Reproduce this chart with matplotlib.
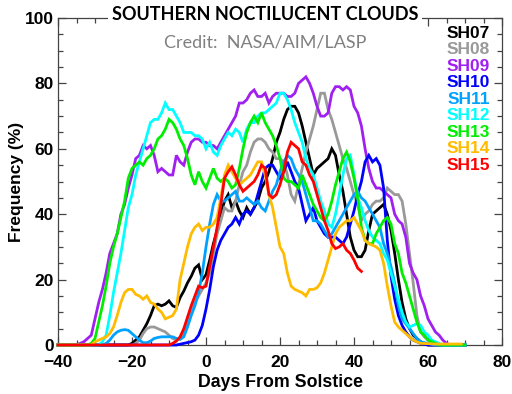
import matplotlib
matplotlib.use("Agg")
import matplotlib.pyplot as plt
from matplotlib.ticker import MultipleLocator

# ---------------- data ----------------
sh07_days = [-40,-21,-20,-19,-18,-17,-16,-15,-14,-13,-12,-11,-10,-9,-8,-7,-6,-5,-4,-3,-2,-1,0,1,2,3,4,5,6,7,8,9,10,11,12,13,14,15,16,17,18,19,20,21,22,23,24,25,26,27,28,29,30,31,32,33,34,35,36,37,38,39,40,41,42,43,44,45,46,47,48,49,50,51,52,53,54,55,56,57,58,59,60,70]
sh07_freq = [0,0,0.5,1.5,2.5,4.5,6.5,9,12,12.5,12,12.5,13.5,12,11.5,14.5,16.5,19,21,23.5,24.5,20,21.5,26,31,35,40,44,46,42,44,41,39,42,40,42,44,48,50,53,57,62,65,69,72,73,73,71,67,62,57,52,54,55,56,57,60,58,52,47,40,33,29,27,27,29,35,40,41,42,43,40,35,28,20,13,8,5,3,2,1,0.5,0,0]

sh08_days = [-40,-20,-19,-18,-17,-16,-15,-14,-13,-12,-11,-10,-9,-8,-7,-6,-5,-4,-3,-2,-1,0,1,2,3,4,5,6,7,8,9,10,11,12,13,14,15,16,17,18,19,20,21,22,23,24,25,26,27,28,29,30,31,32,33,34,35,36,37,38,39,40,41,42,43,44,45,46,47,48,49,50,51,52,53,54,55,56,57,58,59,60,61,62,64,70]
sh08_freq = [0,0,0.5,1.5,3.5,5,5.5,5.5,5,4.5,4,3,2,1.5,2,4,8,11,13,15,17,19,22,28,34,38,42,41,41,44,49,53,55,59,62,63,63,62,60,59,57,57,56,52,46,44,49,54,59,63,67,72,77,77,72,69,65,61,57,54,50,46,43,38,40,41,43,44,44,45,48,47,46,46,44,37,28,19,9,4,2.5,1.5,1,0.5,0,0]

sh09_days = [-40,-35,-34,-33,-32,-31,-30,-29,-28,-27,-26,-25,-24,-23,-22,-21,-20,-19,-18,-17,-16,-15,-14,-13,-12,-11,-10,-9,-8,-7,-6,-5,-4,-3,-2,-1,0,1,2,3,4,5,6,7,8,9,10,11,12,13,14,15,16,17,18,19,20,21,22,23,24,25,26,27,28,29,30,31,32,33,34,35,36,37,38,39,40,41,42,43,44,45,46,47,48,49,50,51,52,53,54,55,56,57,58,59,60,61,62,63,64,65,66,70]
sh09_freq = [0,0,0.5,1,2,3,8,13,17,22,28,31,34,40,43,48,52,57,58,61,60,61,58,53,54,53,52,52,58,56,55,59,62,63,63,62,62,61,61,60,62,64,66,68,70,74,74,75,77,78,76,76,77,74,76,77,77,77,76,76,77,80,81,82,80,77,73,70,70,71,77,79,79,78,79,78,73,71,67,60,54,50,48,48,47,46,45,40,38,37,33,25,22,20,15,12,8,6,4,3,1.5,0.5,0,0]

sh10_days = [-40,-8,-6,-4,-3,-2,-1,0,1,2,3,4,5,6,7,8,9,10,11,12,13,14,15,16,17,18,19,20,21,22,23,24,25,26,27,28,29,30,31,32,33,34,35,36,37,38,39,40,41,42,43,44,45,46,47,48,49,50,51,52,53,54,55,56,57,58,60,70]
sh10_freq = [0,0,0.5,1,1.5,3,6,11,17,24,29,32,34,36,37,39,37,40,41,40,42,46,50,54,55,55,53,51,53,56,53,50,48,43,38,40,42,38,36,34,33,33,33,32,31,33,37,41,46,50,56,58,56,57,55,48,32,21,14,9,6,4,2.5,1.5,1,0.5,0,0]

sh11_days = [-40,-28,-27,-26,-25,-24,-23,-22,-21,-20,-19,-18,-17,-16,-15,-14,-13,-12,-11,-10,-9,-8,-7,-6,-5,-4,-3,-2,-1,0,1,2,3,4,5,6,7,8,9,10,11,12,13,14,15,16,17,18,19,20,21,22,23,24,25,26,27,28,29,30,31,32,33,34,35,36,37,38,39,40,41,42,43,44,45,46,47,48,49,50,51,52,53,54,55,56,57,58,59,60,62,70]
sh11_freq = [0,0,0.5,1.5,3,4,4.5,4.7,4.5,3.5,2.5,1.5,0.7,0.7,1.2,2,2.3,2.5,2.5,2.5,2.5,2,1.7,2.5,5.5,9,12,16,22,30,37,43,46,44,44,45,46,47,44,44,45,44,43,44,42,41,44,47,49,53,56,58,57,54,52,50,46,42,38,38,37,35,33,34,36,38,40,42,44,46,47,45,44,42,40,38,36,31,28,24,19,12,8,6.5,5,3.5,2,1,0.7,0.5,0,0]

sh12_days = [-40,-29,-28,-27,-26,-25,-24,-23,-22,-21,-20,-19,-18,-17,-16,-15,-14,-13,-12,-11,-10,-9,-8,-7,-6,-5,-4,-3,-2,-1,0,1,2,3,4,5,6,7,8,9,10,11,12,13,14,15,16,17,18,19,20,21,22,23,24,25,26,27,28,29,30,31,32,33,34,35,36,37,38,39,40,41,42,43,44,45,46,47,48,49,50,51,52,53,54,55,56,57,58,59,60,61,62,63,64,70]
sh12_freq = [0,0,1,3,9,16,22,28,35,42,46,52,56,60,64,68,69,69,71,74,72,72,70,68,65,65,65,64,64,63,60,62,59,58,61,63,65,64,66,65,62,66,68,68,70,71,71,72,73,74,77,77,75,72,68,65,62,57,54,52,48,44,41,37,36,40,46,52,57,58,52,45,42,38,35,33,32,31,28,26,22,18,14,10,7,5.5,6,6.5,6,4,3,1.5,1,0.5,0,0]

sh13_days = [-40,-32,-31,-30,-29,-28,-27,-26,-25,-24,-23,-22,-21,-20,-19,-18,-17,-16,-15,-14,-13,-12,-11,-10,-9,-8,-7,-6,-5,-4,-3,-2,-1,0,1,2,3,4,5,6,7,8,9,10,11,12,13,14,15,16,17,18,19,20,21,22,23,24,25,26,27,28,29,30,31,32,33,34,35,36,37,38,39,40,41,42,43,44,45,46,47,48,49,50,51,52,53,54,55,56,57,58,59,60,61,62,63,70]
sh13_freq = [0,0,0.5,2,7,12,18,25,30,34,39,44,51,54,55,56,55,57,58,60,63,64,66,69,68,66,63,61,57,52,49,53,50,48,51,54,51,50,51,50,48,49,54,60,65,68,70,68,71,68,66,64,61,57,51,50,50,49,48,52,49,46,43,41,39,38,40,44,49,53,57,59,56,51,45,36,32,31,31,34,36,38,39,37,31,28,22,19,15,11,7,4,3,1.5,1,0.5,0,0]

sh14_days = [-40,-31,-30,-29,-28,-27,-26,-25,-24,-23,-22,-21,-20,-19,-18,-17,-16,-15,-14,-13,-12,-11,-10,-9,-8,-7,-6,-5,-4,-3,-2,-1,0,1,2,3,4,5,6,7,8,9,10,11,12,13,14,15,16,17,18,19,20,21,22,23,24,25,26,27,28,29,30,31,32,33,34,35,36,37,38,39,40,41,42,43,44,45,46,47,48,49,50,51,52,53,54,55,56,57,58,62,69]
sh14_freq = [0,0,1,1.5,2,2.5,3.5,5.5,9,13,16,17,17,15.5,15,14,15,13,12.5,11,10,8,8.5,9,11,20,25,30,34,36,37,35,36,36,37,39,45,52,55,53,51,49,50,51,52,54,56,56,52,46,42,36,30,28,22,18,17,16.5,16,15,17,17,17.5,19,22,26,30,34,36,37,38,38,39,37,35,32,31,30.5,30,29,25,18,12,7,5.5,4.5,3.5,2.5,1.5,1,0.5,0.3,0.3]

sh15_days = [-40,-10,-9,-8,-7,-6,-5,-4,-3,-2,-1,0,1,2,3,4,5,6,7,8,9,10,11,12,13,14,15,16,17,18,19,20,21,22,23,24,25,26,27,28,29,30,31,32,33,34,35,36,37,38,39,40,41,42]
sh15_freq = [0,0,0.5,1.2,2.5,5,8.5,12,15,18,17.5,18,24,30,36,43,51,53,54.5,52,49,47,48,49,50,52,55,54,46,45,46,49,53,59,62,61,60,56,55,52,50,46,42,38,35,31,29.5,30,31,29,28,26,23.5,22.5]

season_labels = ["SH07", "SH08", "SH09", "SH10", "SH11", "SH12", "SH13", "SH14", "SH15"]
season_colors = ["#000000", "#999999", "#A020F0", "#0000FF", "#00A2FF",
                 "#00FFFF", "#00EE00", "#FFBB00", "#FF0000"]

x_ticks = [-40, -20, 0, 20, 40, 60, 80]
y_ticks = [0, 20, 40, 60, 80, 100]

title_text = "SOUTHERN NOCTILUCENT CLOUDS"
credit_text = "Credit:  NASA/AIM/LASP"
x_label = "Days From Solstice"
y_label = "Frequency (%)"

series = [(sh07_days, sh07_freq), (sh08_days, sh08_freq), (sh09_days, sh09_freq),
          (sh10_days, sh10_freq), (sh11_days, sh11_freq), (sh12_days, sh12_freq),
          (sh13_days, sh13_freq), (sh14_days, sh14_freq), (sh15_days, sh15_freq)]

# ---------------- figure ----------------
plt.rcParams['font.family'] = ['Liberation Sans', 'DejaVu Sans']
fig = plt.figure(figsize=(5.12, 3.94), dpi=100)
ax = fig.add_axes([58/512, 1-345/394, 444/512, 327/394])

for (d, f), c in zip(series, season_colors):
    ax.plot(d, f, color=c, lw=2.0, clip_on=False, zorder=3,
            solid_joinstyle='miter')

ax.set_xlim(-40, 80)
ax.set_ylim(0, 100)
ax.set_xticks(x_ticks)
ax.set_yticks(y_ticks)
ax.xaxis.set_minor_locator(MultipleLocator(5))
ax.yaxis.set_minor_locator(MultipleLocator(5))
ax.tick_params(which='both', direction='in', top=True, right=True,
               color='#444444', width=0.9)
ax.tick_params(which='major', length=6)
ax.tick_params(which='minor', length=3.5)
ax.tick_params(axis='x', pad=7)
ax.tick_params(axis='y', pad=3)
for lab in ax.get_xticklabels() + ax.get_yticklabels():
    lab.set_fontweight('bold')
    lab.set_fontsize(12.5)
for sp in ax.spines.values():
    sp.set_color('#444444')
    sp.set_linewidth(0.9)

ax.set_xlabel(x_label, fontsize=12.8, fontweight='bold', labelpad=3)
ax.set_ylabel(y_label, fontsize=12.5, fontweight='bold')
ax.yaxis.set_label_coords(-0.077, 0.5)

# legend as coloured text
for i, (lab, c) in enumerate(zip(season_labels, season_colors)):
    ax.text(0.973, 0.954 - i*0.0505, lab, transform=ax.transAxes,
            ha='right', va='center', color=c, fontsize=12.5, fontweight='bold',
            zorder=5)

fig.text(265/512, 1-15/394, title_text, ha='center', va='center',
         fontsize=13, fontweight='bold', family=['Lato', 'DejaVu Sans'],
         bbox=dict(facecolor='white', edgecolor='none', pad=3), zorder=10)
fig.text(265/512, 1-42/394, credit_text, ha='center', va='center',
         fontsize=13, color='#808080', family=['Lato', 'DejaVu Sans'], zorder=10)

fig.savefig("out.png", dpi=100)
